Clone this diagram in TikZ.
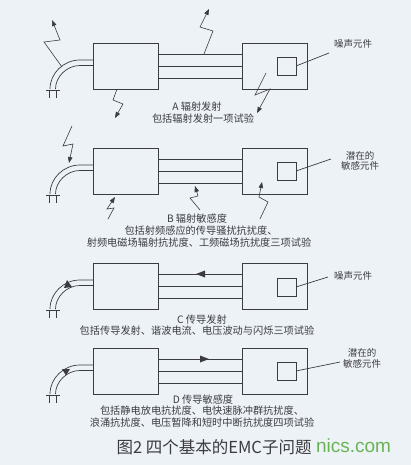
\documentclass[tikz,border=0pt]{standalone}
\usepackage{fontspec}
\newfontfamily\cjk{Noto Sans CJK SC}
\newfontfamily\wmfont{Liberation Sans}
\usetikzlibrary{arrows.meta,calc}
\definecolor{bg}{RGB}{237,242,246}
\definecolor{ink}{RGB}{60,60,64}
\definecolor{wmgreen}{RGB}{104,180,84}
\begin{document}
\begin{tikzpicture}[x=1pt,y=-1pt,
  every node/.style={inner sep=0pt,outer sep=0pt},
  unit/.style={draw=ink,line width=0.7pt,minimum width=65pt,minimum height=46pt},
  part/.style={draw=ink,line width=0.7pt,minimum width=19pt,minimum height=18pt},
  wire/.style={draw=ink,line width=0.7pt},
  bolt/.style={draw=ink,line width=0.6pt,-{Triangle[length=6pt,width=4.5pt]}},
  lbl/.style={font=\cjk\fontsize{9.5}{10.5}\selectfont,text=ink,align=center},
  captxt/.style={font=\cjk\fontsize{10.2}{12}\selectfont,text=ink},
  headtri/.style={fill=ink}]
\fill[bg] (0,0) rectangle (411,465);
\useasboundingbox (0,0) rectangle (411,465);

% ---------- Panel A ----------
\begin{scope}[shift={(0,43)}]
  \node[unit] (LA) at (125.5,23) {};
  \node[unit] (RA) at (274.5,23) {};
  \node[part] (SA) at (286.5,23) {};
  \draw[wire] ($(LA.north east)+(0,11)$) -- ($(RA.north west)+(0,11)$);
  \draw[wire] ($(LA.north east)+(0,23.5)$) -- ($(RA.north west)+(0,23.5)$);
  \draw[wire] ($(LA.north east)+(0,35)$) -- ($(RA.north west)+(0,35)$);
  \draw[wire] ($(LA.north west)+(0,17)$) -- (80,17) .. controls (63.4,17) and (50,30.4) .. (50,46);
  \draw[wire] ($(LA.north west)+(0,22.5)$) -- (80,22.5) .. controls (66.5,22.5) and (55.5,34) .. (55.5,46);
  \draw[wire] (46,47) -- (59.5,47) (49,47) -- (49,55) (56,47) -- (56,55);
  \coordinate (EA) at (329,10);
  \node[lbl,anchor=west] (NA) at (334,1) {噪声元件};
  \draw[wire] (SA.east) -- (EA);
  \draw[bolt] (62,24) -- (44,-1) -- (60,-3) -- (52,-23);
  \draw[bolt] (204,11) -- (213,-12) -- (200,-16) -- (209,-34);
  \draw[bolt] (117,46) -- (113,57) -- (123,61) -- (115,75);
  \draw[bolt] (266,30) -- (255,52) -- (270,46) -- (257,70);
\end{scope}
\node[captxt] (CA1) at (197,107) {A\ 辐射发射};
\node[captxt] (CA2) at (203,119) {包括辐射发射一项试验};

% ---------- Panel B ----------
\begin{scope}[shift={(0,148)}]
  \node[unit] (LB) at (125.5,23) {};
  \node[unit] (RB) at (274.5,23) {};
  \node[part] (SB) at (286.5,23) {};
  \draw[wire] ($(LB.north east)+(0,11)$) -- ($(RB.north west)+(0,11)$);
  \draw[wire] ($(LB.north east)+(0,23.5)$) -- ($(RB.north west)+(0,23.5)$);
  \draw[wire] ($(LB.north east)+(0,35)$) -- ($(RB.north west)+(0,35)$);
  \draw[wire] ($(LB.north west)+(0,17)$) -- (80,17) .. controls (63.4,17) and (50,30.4) .. (50,46);
  \draw[wire] ($(LB.north west)+(0,22.5)$) -- (80,22.5) .. controls (66.5,22.5) and (55.5,34) .. (55.5,46);
  \draw[wire] (46,47) -- (59.5,47) (49,47) -- (49,55) (56,47) -- (56,55);
  \coordinate (EB) at (331,11);
  \node[lbl] (NB) at (360,13) {潜在的\\敏感元件};
  \draw[wire] (SB.east) -- (EB);
  \draw[bolt] (72,-22) -- (63,-2) -- (73,-4) -- (69,15);
  \draw[bolt] (108,71) -- (114,60) -- (107,61) -- (115,49);
  \draw[bolt] (200,62) -- (190,50) -- (198,48) -- (195,38);
  \draw[bolt] (260,71) -- (268,54) -- (259,49) -- (262,34);
\end{scope}
\node[captxt] (CB1) at (197,219) {B\ 辐射敏感度};
\node[captxt] (CB2) at (201,231) {包括射频感应的传导骚扰抗扰度、};
\node[captxt] (CB3) at (199,243) {射频电磁场辐射抗扰度、工频磁场抗扰度三项试验};

% ---------- Panel C ----------
\begin{scope}[shift={(0,263)}]
  \node[unit] (LC) at (125.5,23) {};
  \node[unit] (RC) at (274.5,23) {};
  \node[part] (SC) at (286.5,24) {};
  \draw[wire] ($(LC.north east)+(0,11)$) -- ($(RC.north west)+(0,11)$);
  \draw[wire] ($(LC.north east)+(0,23.5)$) -- ($(RC.north west)+(0,23.5)$);
  \draw[wire] ($(LC.north east)+(0,35)$) -- ($(RC.north west)+(0,35)$);
  \draw[wire] ($(LC.north west)+(0,17)$) -- (80,17) .. controls (63.4,17) and (50,30.4) .. (50,46);
  \draw[wire] ($(LC.north west)+(0,22.5)$) -- (80,22.5) .. controls (66.5,22.5) and (55.5,34) .. (55.5,46);
  \draw[wire] (46,47) -- (59.5,47) (49,47) -- (49,55) (56,47) -- (56,55);
  \coordinate (EC) at (328,14);
  \node[lbl,anchor=west] (NC) at (334,13) {噪声元件};
  \draw[wire] (SC.east) -- (EC);
  \fill[headtri] (205,7.5) -- (205,14.5) -- (196,11) -- cycle;
  \fill[headtri] (64,25) -- (72,24) -- (67,17) -- cycle;
\end{scope}
\node[captxt] (CC1) at (202,320) {C\ 传导发射};
\node[captxt] (CC2) at (197,331) {包括传导发射、谐波电流、电压波动与闪烁三项试验};

% ---------- Panel D ----------
\begin{scope}[shift={(0,348)}]
  \node[unit] (LD) at (125.5,23) {};
  \node[unit] (RD) at (274.5,23) {};
  \node[part] (SD) at (286.5,23) {};
  \draw[wire] ($(LD.north east)+(0,11)$) -- ($(RD.north west)+(0,11)$);
  \draw[wire] ($(LD.north east)+(0,23.5)$) -- ($(RD.north west)+(0,23.5)$);
  \draw[wire] ($(LD.north east)+(0,35)$) -- ($(RD.north west)+(0,35)$);
  \draw[wire] ($(LD.north west)+(0,17)$) -- (80,17) .. controls (63.4,17) and (50,30.4) .. (50,46);
  \draw[wire] ($(LD.north west)+(0,22.5)$) -- (80,22.5) .. controls (66.5,22.5) and (55.5,34) .. (55.5,46);
  \draw[wire] (46,47) -- (59.5,47) (49,47) -- (49,55) (56,47) -- (56,55);
  \coordinate (ED) at (340,14);
  \node[lbl] (ND) at (362,10.5) {潜在的\\敏感元件};
  \draw[wire] (SD.east) -- (ED);
  \fill[headtri] (200,7.5) -- (200,14.5) -- (209,11) -- cycle;
  \fill[headtri] (62,21) -- (70,21) -- (66,27.5) -- cycle;
\end{scope}
\node[captxt] (CD1) at (203,400) {D\ 传导敏感度};
\node[captxt] (CD2) at (202,411) {包括静电放电抗扰度、电快速脉冲群抗扰度、};
\node[captxt] (CD3) at (202,423) {浪涌抗扰度、电压暂降和短时中断抗扰度四项试验};

% ---------- Title ----------
\node[font=\cjk\fontsize{16.5}{19}\selectfont,text=ink] (T) at (214,447) {图2 四个基本的EMC子问题};
\node[font=\wmfont\fontsize{19}{19}\selectfont,text=wmgreen,anchor=east] (W) at (391,446) {nics.com};
\end{tikzpicture}
\end{document}
